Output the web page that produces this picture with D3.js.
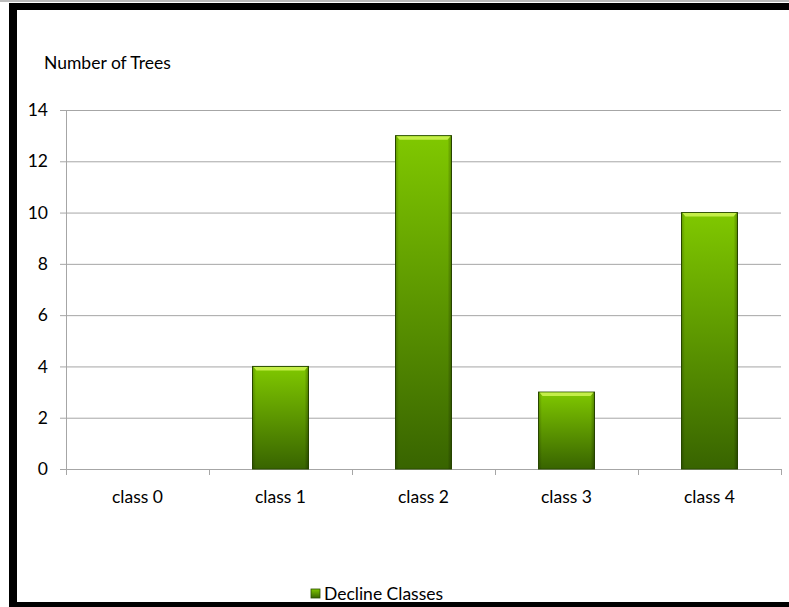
<!DOCTYPE html>
<html>
<head>
<meta charset="utf-8">
<script src="https://cdn.jsdelivr.net/npm/d3@7"></script>
<style>
  html, body { margin: 0; padding: 0; background: #fff; }
  svg { display: block; }
  text { font-family: Lato, "Open Sans", sans-serif; fill: #000; }
</style>
</head>
<body>
<svg id="chart" width="789" height="607"></svg>
<script>
// Tree counts per decline class
const categories = ["class 0", "class 1", "class 2", "class 3", "class 4"];
const treeCounts = [0, 4, 13, 3, 10];
const yTicks = [0, 2, 4, 6, 8, 10, 12, 14];
const seriesName = "Decline Classes";
const yTitle = "Number of Trees";

const W = 789, H = 607;
const FONT = "Lato, 'Open Sans', sans-serif";
const FS = 17.5;
const left = 66, right = 781;

const svg = d3.select("#chart");

// Frame: heavy black border on top, left and bottom
svg.append("rect").attr("x", 0).attr("y", 0).attr("width", W).attr("height", 2).attr("fill", "#bbb");
svg.append("rect").attr("x", 9).attr("y", 3).attr("width", W - 9).attr("height", 7).attr("fill", "#000");
svg.append("rect").attr("x", 9).attr("y", 3).attr("width", 8).attr("height", H - 3).attr("fill", "#000");
svg.append("rect").attr("x", 9).attr("y", 602).attr("width", W - 9).attr("height", 5).attr("fill", "#000");

const x = d3.scaleBand().domain(categories).range([left, right]).paddingInner(0).paddingOuter(0);
const y = d3.scaleLinear().domain([0, 14]).range([469, 110]);

// Gradients for bars
const defs = svg.append("defs");
const grad = defs.append("linearGradient").attr("id", "barGrad").attr("x1", 0).attr("y1", 0).attr("x2", 0).attr("y2", 1);
grad.append("stop").attr("offset", "0%").attr("stop-color", "#80c800");
grad.append("stop").attr("offset", "100%").attr("stop-color", "#386400");
const side = defs.append("linearGradient").attr("id", "sideGrad").attr("x1", 0).attr("y1", 0).attr("x2", 1).attr("y2", 0);
side.append("stop").attr("offset", "0%").attr("stop-color", "#000").attr("stop-opacity", 0.22);
side.append("stop").attr("offset", "6%").attr("stop-color", "#000").attr("stop-opacity", 0);
side.append("stop").attr("offset", "93%").attr("stop-color", "#000").attr("stop-opacity", 0);
side.append("stop").attr("offset", "100%").attr("stop-color", "#000").attr("stop-opacity", 0.3);

// Horizontal gridlines with left ticks
const yAxis = d3.axisLeft(y).tickValues(yTicks).tickSize(-(right - left)).tickFormat(d3.format("d")).tickPadding(18);
const gy = svg.append("g").attr("transform", `translate(${left},0)`).call(yAxis);
gy.select(".domain").remove();
gy.selectAll(".tick line").attr("stroke", "#a6a6a6").attr("x1", -6).attr("stroke-width", 1);
gy.selectAll(".tick text").attr("font-size", FS).attr("font-family", FONT).attr("fill", "#000");

// Vertical axis line
svg.append("line").attr("x1", left + 0.5).attr("x2", left + 0.5)
  .attr("y1", y(14)).attr("y2", y(0)).attr("stroke", "#a6a6a6");

// Category axis
const gx = svg.append("g").attr("transform", `translate(0,${y(0)})`)
  .call(d3.axisBottom(x).tickSize(0).tickPadding(22));
gx.select(".domain").attr("stroke", "#a6a6a6").attr("d", `M${left - 6},0.5H${right}`);
gx.selectAll(".tick text").attr("font-size", FS).attr("font-family", FONT).attr("fill", "#000");
const bounds = categories.map(c => x(c)).concat([x(categories[categories.length - 1]) + x.bandwidth()]);
gx.selectAll(".sep").data(bounds).enter().append("line")
  .attr("x1", d => Math.round(d) + 0.5).attr("x2", d => Math.round(d) + 0.5)
  .attr("y1", 0).attr("y2", 6).attr("stroke", "#a6a6a6");

// Bars
const bw = 56;
const bars = svg.append("g").selectAll("g").data(categories.map((c, i) => ({ c, v: treeCounts[i] })).filter(d => d.v > 0))
  .enter().append("g");
bars.append("rect")
  .attr("x", d => x(d.c) + x.bandwidth() / 2 - bw / 2)
  .attr("y", d => y(d.v))
  .attr("width", bw)
  .attr("height", d => y(0) - y(d.v))
  .attr("fill", "url(#barGrad)")
  .attr("stroke", "#2c4f00").attr("stroke-width", 1);
bars.append("rect")
  .attr("x", d => x(d.c) + x.bandwidth() / 2 - bw / 2)
  .attr("y", d => y(d.v))
  .attr("width", bw)
  .attr("height", d => y(0) - y(d.v))
  .attr("fill", "url(#sideGrad)");
// Bevelled top edge highlight
bars.append("path")
  .attr("d", d => {
    const x0 = x(d.c) + x.bandwidth() / 2 - bw / 2, y0 = y(d.v);
    return `M${x0 + 1},${y0 + 0.5}H${x0 + bw - 1}L${x0 + bw - 4},${y0 + 4}H${x0 + 4}Z`;
  })
  .attr("fill", "#c4ee48");

// Title above the value axis
svg.append("text").attr("x", 44).attr("y", 69).attr("font-size", FS).attr("font-family", FONT).text(yTitle);

// Legend
const lg = svg.append("g").attr("transform", "translate(311,589)");
lg.append("rect").attr("width", 9).attr("height", 9).attr("fill", "url(#barGrad)").attr("stroke", "#2c4f00").attr("stroke-width", 0.8);
lg.append("text").attr("x", 13).attr("y", 10.5).attr("font-size", FS).attr("font-family", FONT).text(seriesName);
</script>
</body>
</html>
